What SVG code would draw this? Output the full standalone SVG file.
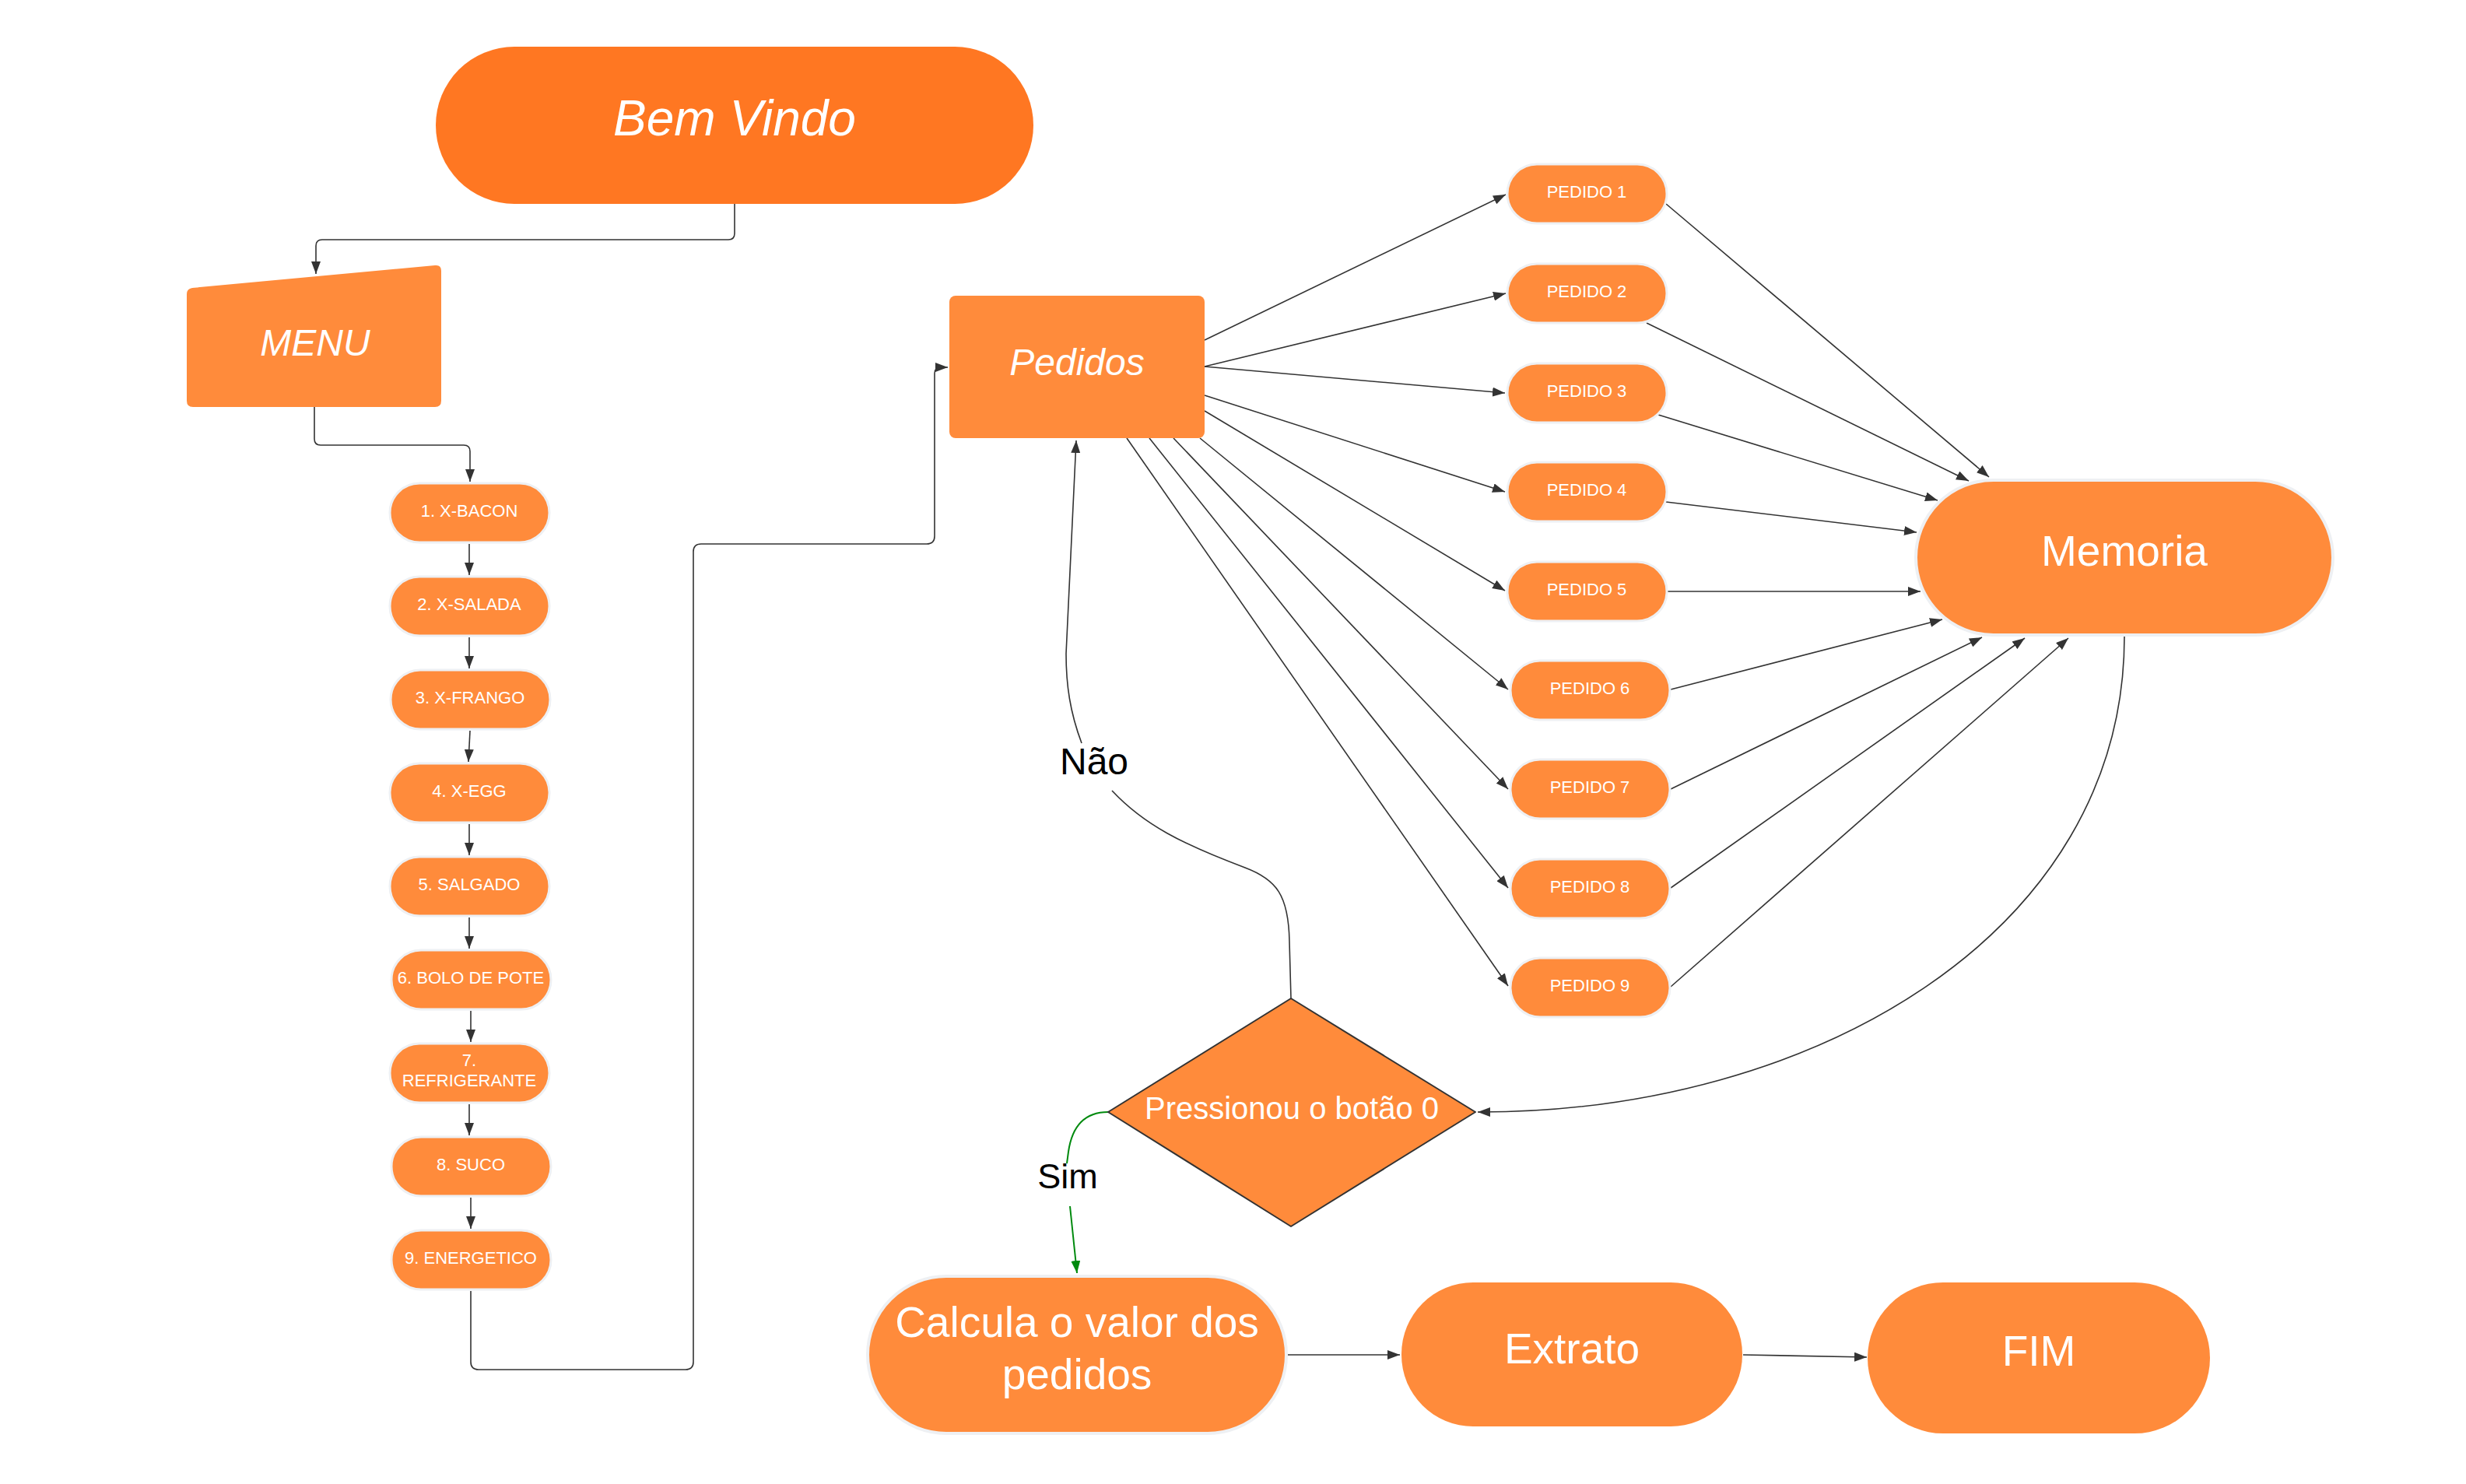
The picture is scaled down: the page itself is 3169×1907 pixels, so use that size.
<svg xmlns="http://www.w3.org/2000/svg" width="3169" height="1907" viewBox="0 0 3169 1907">
<style>
.n{fill:#FF8B3B}
.b{fill:#FF8B3B;stroke:#EEF0F3;stroke-width:3}
.t{fill:#FFFFFF;font-family:"Liberation Sans",Arial,sans-serif;text-anchor:middle}
.i{font-style:italic}
.l{fill:#000000;font-family:"Liberation Sans",Arial,sans-serif;text-anchor:middle}
.c{fill:none;stroke:#333333;stroke-width:1.6}
.g{fill:none;stroke:#008A0E;stroke-width:2}
</style>
<defs>
<marker id="a" viewBox="0 0 16 12" refX="16" refY="6" markerWidth="16" markerHeight="12" markerUnits="userSpaceOnUse" orient="auto"><path d="M0,0 L16,6 L0,12 Z" fill="#333333"/></marker>
<marker id="ag" viewBox="0 0 16 12" refX="16" refY="6" markerWidth="16" markerHeight="12" markerUnits="userSpaceOnUse" orient="auto"><path d="M0,0 L16,6 L0,12 Z" fill="#008A0E"/></marker>
</defs>
<rect width="3169" height="1907" fill="#FFFFFF"/>
<g id="connectors">
<path class="c" marker-end="url(#a)" d="M944,262 L944,300 Q944,308 936,308 L414,308 Q406,308 406,316 L406,352"/>
<path class="c" marker-end="url(#a)" d="M404,523 L404,564 Q404,572 412,572 L596,572 Q604,572 604,580 L604,619"/>
<path class="c" marker-end="url(#a)" d="M603,699 L603,739"/>
<path class="c" marker-end="url(#a)" d="M603,819 L603,859"/>
<path class="c" marker-end="url(#a)" d="M604,939 L602,979"/>
<path class="c" marker-end="url(#a)" d="M603,1059 L603,1099"/>
<path class="c" marker-end="url(#a)" d="M603,1179 L603,1219"/>
<path class="c" marker-end="url(#a)" d="M605,1299 L605,1339"/>
<path class="c" marker-end="url(#a)" d="M603,1419 L603,1459"/>
<path class="c" marker-end="url(#a)" d="M605,1539 L605,1579"/>
<path class="c" marker-end="url(#a)" d="M605,1659 L605,1750 Q605,1760 615,1760 L881,1760 Q891,1760 891,1750 L891,709 Q891,699 901,699 L1191,699 Q1201,699 1201,689 L1201,480 Q1201,472 1209,472 L1218,472"/>
<path class="c" marker-end="url(#a)" d="M1548,437 L1935,250"/>
<path class="c" marker-end="url(#a)" d="M1548,471 L1935,377"/>
<path class="c" marker-end="url(#a)" d="M1548,471 L1934,505"/>
<path class="c" marker-end="url(#a)" d="M1548,508 L1934,632"/>
<path class="c" marker-end="url(#a)" d="M1548,528 L1934,759"/>
<path class="c" marker-end="url(#a)" d="M1542,563 L1938,886"/>
<path class="c" marker-end="url(#a)" d="M1508,563 L1938,1014"/>
<path class="c" marker-end="url(#a)" d="M1477,563 L1938,1141"/>
<path class="c" marker-end="url(#a)" d="M1448,563 L1938,1267"/>
<path class="c" marker-end="url(#a)" d="M2141,262 L2556,613"/>
<path class="c" marker-end="url(#a)" d="M2116,415 L2530,618"/>
<path class="c" marker-end="url(#a)" d="M2131,533 L2490,643"/>
<path class="c" marker-end="url(#a)" d="M2141,645 L2463,684"/>
<path class="c" marker-end="url(#a)" d="M2142,760 L2468,760"/>
<path class="c" marker-end="url(#a)" d="M2147,886 L2496,796"/>
<path class="c" marker-end="url(#a)" d="M2147,1014 L2547,819"/>
<path class="c" marker-end="url(#a)" d="M2147,1141 L2602,820"/>
<path class="c" marker-end="url(#a)" d="M2147,1268 L2658,820"/>
<path class="c" marker-end="url(#a)" d="M2730,818 C2730,1200 2330,1430 1899,1429"/>
<path class="c" d="M1659,1283 L1657,1210 C1656,1150 1640,1130 1600,1115 C1520,1085 1470,1060 1429,1016"/>
<path class="c" marker-end="url(#a)" d="M1390,955 C1375,915 1370,880 1370,840 L1383,566"/>
<path class="g" d="M1424,1429 C1395,1429 1378,1445 1373,1480 L1371,1495"/>
<path class="g" marker-end="url(#ag)" d="M1375,1550 L1384,1636"/>
<path class="c" marker-end="url(#a)" d="M1655,1741 L1799,1741"/>
<path class="c" marker-end="url(#a)" d="M2240,1741 L2399,1744"/>
<text class="l" x="1406" y="995" font-size="48">Não</text>
<text class="l" x="1372" y="1527" font-size="45">Sim</text>
</g>
<g id="bem-vindo"><rect x="560" y="60" width="768" height="202" rx="101" fill="#FF7722"/><text class="t i" x="944" y="174" font-size="64">Bem Vindo</text></g>
<g id="menu"><path class="n" d="M240,378 Q240,371 247,370 L559,341 Q567,340 567,348 L567,515 Q567,523 559,523 L248,523 Q240,523 240,515 Z"/><text class="t i" x="405" y="457" font-size="48">MENU</text></g>
<g id="item1"><rect class="b" x="501" y="621" width="205" height="76" rx="38"/><text class="t" x="603" y="664" font-size="22">1. X-BACON</text></g>
<g id="item2"><rect class="b" x="501" y="741" width="205" height="76" rx="38"/><text class="t" x="603" y="784" font-size="22">2. X-SALADA</text></g>
<g id="item3"><rect class="b" x="502" y="861" width="205" height="76" rx="38"/><text class="t" x="604" y="904" font-size="22">3. X-FRANGO</text></g>
<g id="item4"><rect class="b" x="501" y="981" width="205" height="76" rx="38"/><text class="t" x="603" y="1024" font-size="22">4. X-EGG</text></g>
<g id="item5"><rect class="b" x="501" y="1101" width="205" height="76" rx="38"/><text class="t" x="603" y="1144" font-size="22">5. SALGADO</text></g>
<g id="item6"><rect class="b" x="503" y="1221" width="205" height="76" rx="38"/><text class="t" x="605" y="1264" font-size="22">6. BOLO DE POTE</text></g>
<g id="item7"><rect class="b" x="501" y="1341" width="205" height="76" rx="38"/><text class="t" x="603" y="1370" font-size="22">7.</text><text class="t" x="603" y="1396" font-size="22">REFRIGERANTE</text></g>
<g id="item8"><rect class="b" x="503" y="1461" width="205" height="76" rx="38"/><text class="t" x="605" y="1504" font-size="22">8. SUCO</text></g>
<g id="item9"><rect class="b" x="503" y="1581" width="205" height="76" rx="38"/><text class="t" x="605" y="1624" font-size="22">9. ENERGETICO</text></g>
<g id="pedidos"><rect class="n" x="1220" y="380" width="328" height="183" rx="8"/><text class="t i" x="1384" y="482" font-size="48">Pedidos</text></g>
<g id="pedido1"><rect class="b" x="1937" y="211" width="205" height="76" rx="38"/><text class="t" x="2039" y="254" font-size="22">PEDIDO 1</text></g>
<g id="pedido2"><rect class="b" x="1937" y="339" width="205" height="76" rx="38"/><text class="t" x="2039" y="382" font-size="22">PEDIDO 2</text></g>
<g id="pedido3"><rect class="b" x="1937" y="467" width="205" height="76" rx="38"/><text class="t" x="2039" y="510" font-size="22">PEDIDO 3</text></g>
<g id="pedido4"><rect class="b" x="1937" y="594" width="205" height="76" rx="38"/><text class="t" x="2039" y="637" font-size="22">PEDIDO 4</text></g>
<g id="pedido5"><rect class="b" x="1937" y="722" width="205" height="76" rx="38"/><text class="t" x="2039" y="765" font-size="22">PEDIDO 5</text></g>
<g id="pedido6"><rect class="b" x="1941" y="849" width="205" height="76" rx="38"/><text class="t" x="2043" y="892" font-size="22">PEDIDO 6</text></g>
<g id="pedido7"><rect class="b" x="1941" y="976" width="205" height="76" rx="38"/><text class="t" x="2043" y="1019" font-size="22">PEDIDO 7</text></g>
<g id="pedido8"><rect class="b" x="1941" y="1104" width="205" height="76" rx="38"/><text class="t" x="2043" y="1147" font-size="22">PEDIDO 8</text></g>
<g id="pedido9"><rect class="b" x="1941" y="1231" width="205" height="76" rx="38"/><text class="t" x="2043" y="1274" font-size="22">PEDIDO 9</text></g>
<g id="memoria"><rect class="b" x="2462" y="617" width="536" height="199" rx="99.5" style="stroke-width:4"/><text class="t" x="2730" y="727" font-size="55">Memoria</text></g>
<g id="decisao"><path class="n" d="M1659,1283 L1896,1429 L1659,1576 L1424,1429 Z" stroke="#333333" stroke-width="2" stroke-linejoin="round"/><text class="t" x="1660" y="1438" font-size="40">Pressionou o botão 0</text></g>
<g id="calcula"><rect class="b" x="1115" y="1640" width="538" height="202" rx="101" style="stroke-width:4"/><text class="t" x="1384" y="1718" font-size="55">Calcula o valor dos</text><text class="t" x="1384" y="1785" font-size="55">pedidos</text></g>
<g id="extrato"><rect class="n" x="1801" y="1648" width="438" height="185" rx="92"/><text class="t" x="2020" y="1752" font-size="55">Extrato</text></g>
<g id="fim"><rect class="n" x="2400" y="1648" width="440" height="194" rx="97"/><text class="t" x="2620" y="1755" font-size="55">FIM</text></g>
</svg>
